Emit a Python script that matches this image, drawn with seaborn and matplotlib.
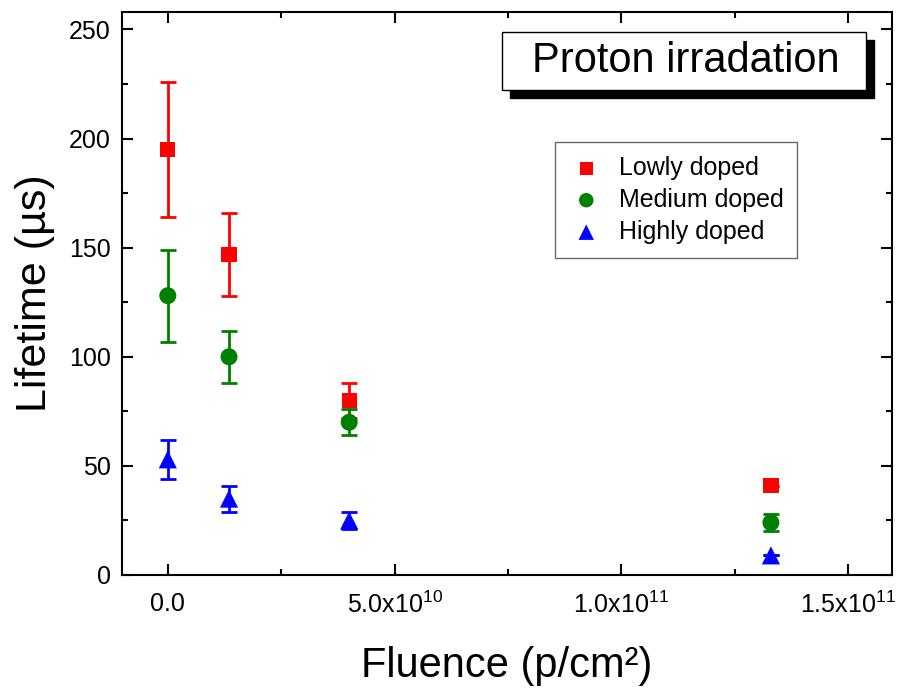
import numpy as np
import pandas as pd
import matplotlib
matplotlib.use("Agg")
import matplotlib.pyplot as plt
import seaborn as sns
from matplotlib.ticker import MultipleLocator, FixedLocator
from matplotlib.patches import Rectangle

# ---- data ----
fluence = [0.0, 1.35e10, 4.0e10, 1.33e11]
low_vals = [195, 147, 80, 41]
low_err = [31, 19, 8, 0]
med_vals = [128, 100, 70, 24]
med_err = [21, 12, 6, 4]
high_vals = [53, 35, 25, 9]
high_err = [9, 6, 4, 0]
series_names = ["Lowly doped", "Medium doped", "Highly doped"]
x_ticks = [0.0, 5.0e10, 1.0e11, 1.5e11]
x_tick_labels = ["0.0", r"5.0x10$^{10}$", r"1.0x10$^{11}$", r"1.5x10$^{11}$"]
y_ticks = [0, 50, 100, 150, 200, 250]

rows = []
for name, vals, errs in zip(series_names, [low_vals, med_vals, high_vals],
                            [low_err, med_err, high_err]):
    for x, v, e in zip(fluence, vals, errs):
        rows.append({"Fluence": x, "Lifetime": v, "err": e, "Series": name})
df = pd.DataFrame(rows)

sns.set_style("ticks")
plt.rcParams["font.family"] = ["Liberation Sans", "DejaVu Sans"]
plt.rcParams["mathtext.fontset"] = "custom"
plt.rcParams["mathtext.rm"] = "Liberation Sans"
plt.rcParams["mathtext.it"] = "Liberation Sans"
plt.rcParams["text.color"] = "black"
plt.rcParams["axes.labelcolor"] = "black"

colors = {"Lowly doped": "#ff0000", "Medium doped": "#008000", "Highly doped": "#0000ff"}
markers = {"Lowly doped": "s", "Medium doped": "o", "Highly doped": "^"}
sizes = {"Lowly doped": 120, "Medium doped": 150, "Highly doped": 170}

fig = plt.figure(figsize=(9.04, 6.88), dpi=100)
ax = fig.add_axes([122/904, 1-575/688, (892-122)/904, (575-12)/688])

for name in series_names:
    sub = df[df["Series"] == name]
    ax.errorbar(sub["Fluence"], sub["Lifetime"], yerr=sub["err"], fmt="none",
                ecolor=colors[name], elinewidth=2, capsize=6, capthick=2, zorder=2)

for name in series_names:
    sub = df[df["Series"] == name]
    sns.scatterplot(data=sub, x="Fluence", y="Lifetime", ax=ax, color=colors[name],
                    marker=markers[name], s=sizes[name], edgecolor="none",
                    label=name, zorder=3)

ax.set_xlim(-1.01e10, 1.597e11)
ax.set_ylim(0, 258)
ax.xaxis.set_major_locator(FixedLocator(x_ticks))
ax.set_xticklabels(x_tick_labels)
ax.xaxis.set_minor_locator(MultipleLocator(2.5e10))
ax.set_yticks(y_ticks)
ax.yaxis.set_minor_locator(MultipleLocator(25))
ax.tick_params(which="both", direction="in", top=True, right=True, width=1.5,
               labelsize=18, colors="black")
ax.tick_params(which="major", length=8)
ax.tick_params(which="minor", length=4)
ax.tick_params(axis="x", pad=12)
ax.tick_params(axis="y", pad=8)
for s in ax.spines.values():
    s.set_linewidth(1.5)
    s.set_color("black")

ax.set_xlabel("Fluence (p/cm²)", fontsize=30, labelpad=20)
ax.set_ylabel("Lifetime (µs)", fontsize=31, labelpad=10)

leg = ax.legend(loc="upper left", bbox_to_anchor=((555-122)/770, 1-(142-12)/563),
                fontsize=18, frameon=True, fancybox=False, edgecolor="#444444",
                handletextpad=0.6, borderpad=0.55, borderaxespad=0.0,
                labelspacing=0.32, markerscale=0.85, handlelength=1.4)
leg.get_frame().set_linewidth(1.0)
for t in leg.get_texts():
    t.set_color("black")

# title box with shadow
bx0, by0, bw, bh = 502, 32, 364, 58
shadow = Rectangle((bx0 + 8, 688 - (by0 + bh) - 8), bw, bh, transform=None,
                   facecolor="black", edgecolor="black", zorder=4)
fig.patches.append(shadow)
box = Rectangle((bx0, 688 - (by0 + bh)), bw, bh, transform=None,
                facecolor="white", edgecolor="black", linewidth=1.0, zorder=5)
fig.patches.append(box)
fig.text(532/904, 1 - (by0 + bh/2)/688, "Proton irradation",
         fontsize=30, ha="left", va="center", zorder=6)

fig.savefig("out.png", dpi=100)
